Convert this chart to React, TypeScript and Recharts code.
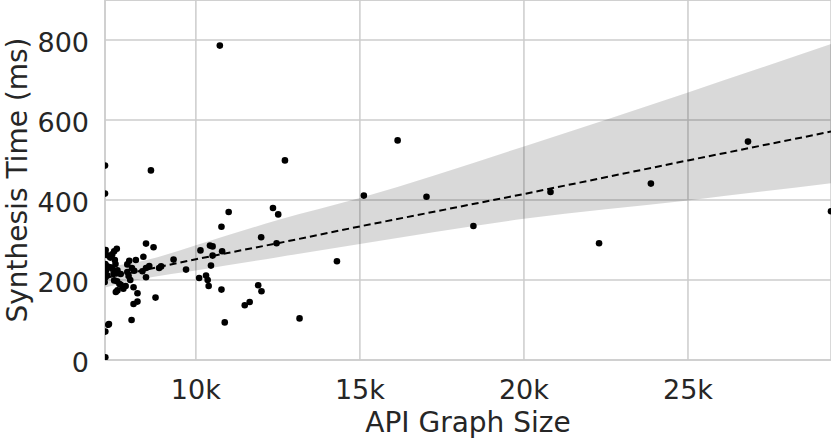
import React from "react";
import {
  CartesianGrid,
  ComposedChart,
  Area,
  Label,
  Line,
  ReferenceLine,
  Scatter,
  XAxis,
  YAxis,
} from "recharts";

// API graph size (nodes) and synthesis time (ms)
const graphSizes = [
  7230, 7230, 7250, 7300, 7240, 7300, 7260, 7300, 7240, 7220, 7350, 7330, 7240, 7240,
  7590, 7510, 7450, 7390, 7530, 7450, 7610, 7590, 7490, 7710, 7510, 7600, 7670, 7710,
  7780, 7790, 7560, 7610, 7860, 7400, 7550, 7970, 8170, 7910, 7910, 8120, 8000, 8100,
  8220, 8220, 8100, 8040, 7950, 8050, 8480, 8710, 8400, 8580, 8480, 8370, 8480, 8770,
  8940, 8880, 8630, 9320, 9700, 10140, 10430, 10510, 10510, 10460, 10800, 10780, 10100,
  10310, 10360, 10390, 10780, 10880, 10730, 11000, 11490, 11640, 11900, 12000, 11990,
  12350, 12510, 12460, 12715, 13160, 14300, 15120, 16150, 17030, 18460, 20810, 22290,
  23870, 26830, 29360,
];
const synthTimes = [
  486, 416, 275, 262, 240, 234, 224, 211, 206, 195, 90, 88, 71, 7,
  278, 272, 264, 256, 250, 228, 224, 220, 215, 215, 199, 197, 190, 188,
  182, 178, 170, 174, 185, 232, 240, 248, 250, 239, 220, 223, 200, 182,
  167, 146, 140, 100, 210, 230, 291, 282, 258, 235, 230, 222, 207, 156,
  234, 230, 474, 251, 226, 274, 286, 284, 261, 236, 272, 333, 205,
  211, 200, 185, 176, 94, 786, 370, 137, 145, 187, 172, 307,
  380, 364, 292, 499, 104, 247, 411, 549, 408, 335, 420, 292,
  441, 546, 372,
];

// regression fit and its confidence band
const fitX = [7230, 8500, 10000, 12500, 15000, 20000, 25000, 29360];
const fitY = [205, 226, 252, 292, 334, 415, 499, 571];
const bandLow = [181, 205, 224, 257, 290, 353, 399, 442];
const bandHigh = [232, 250, 287, 350, 405, 534, 669, 790];

const xTicks = [10000, 15000, 20000, 25000];
const yTicks = [0, 200, 400, 600, 800];

const points = graphSizes.map((x, i) => ({ x, y: synthTimes[i] }));
const fitData = fitX.map((x, i) => ({ x, fit: fitY[i], band: [bandLow[i], bandHigh[i]] }));

const FONT = "'DejaVu Sans', sans-serif";
const TEXT = "#262626";
const GRID = "#cccccc";

const XTick = ({ x, y, payload }: any) => (
  <text x={x} y={y} dy={38.5} textAnchor="middle" fill={TEXT} fontSize={27} fontFamily={FONT}>
    {`${payload.value / 1000}k`}
  </text>
);

const YTick = ({ x, y, payload }: any) => (
  <text x={x} y={y} dy={12} textAnchor="end" fill={TEXT} fontSize={27} fontFamily={FONT}>
    {payload.value}
  </text>
);

export default function App() {
  return (
    <div style={{ position: "absolute", left: 0, top: 0, width: 831, height: 443, background: "#fff" }}>
      <ComposedChart width={831} height={443} data={fitData} margin={{ top: 0, right: 0, bottom: 0, left: 0 }}>
        <CartesianGrid stroke={GRID} strokeWidth={1.5} />
        <XAxis
          type="number"
          dataKey="x"
          domain={[7230, 29360]}
          allowDataOverflow
          ticks={xTicks}
          height={83}
          tickSize={0}
          tickMargin={0}
          axisLine={{ stroke: GRID, strokeWidth: 1.5 }}
          tick={<XTick />}
        >
          <Label
            content={({ viewBox }: any) => (
              <text
                x={viewBox.x + viewBox.width / 2}
                y={viewBox.y + 72}
                textAnchor="middle"
                fill={TEXT}
                fontSize={28}
                fontFamily={FONT}
              >
                API Graph Size
              </text>
            )}
          />
        </XAxis>
        <YAxis
          type="number"
          domain={[0, 900]}
          allowDataOverflow
          ticks={yTicks}
          width={105}
          tickSize={0}
          tickMargin={16}
          axisLine={{ stroke: GRID, strokeWidth: 1.5 }}
          tick={<YTick />}
        >
          <Label
            content={({ viewBox }: any) => {
              const cx = viewBox.x + 27;
              const cy = viewBox.y + viewBox.height / 2;
              return (
                <text
                  x={cx}
                  y={cy}
                  transform={`rotate(-90, ${cx}, ${cy})`}
                  textAnchor="middle"
                  fill={TEXT}
                  fontSize={28}
                  fontFamily={FONT}
                >
                  Synthesis Time (ms)
                </text>
              );
            }}
          />
        </YAxis>
        <ReferenceLine y={900} stroke={GRID} strokeWidth={1.5} />
        <Scatter data={points} dataKey="y" fill="#000" isAnimationActive={false} shape={(p: any) => <circle cx={p.cx} cy={p.cy} r={3.3} fill="#000" />} />
        <Area
          dataKey="band"
          type="monotone"
          stroke="none"
          fill="#000"
          fillOpacity={0.15}
          isAnimationActive={false}
          activeDot={false}
        />
        <Line
          dataKey="fit"
          type="linear"
          stroke="#000"
          strokeWidth={2}
          strokeDasharray="7 4"
          dot={false}
          activeDot={false}
          isAnimationActive={false}
        />
      </ComposedChart>
    </div>
  );
}
